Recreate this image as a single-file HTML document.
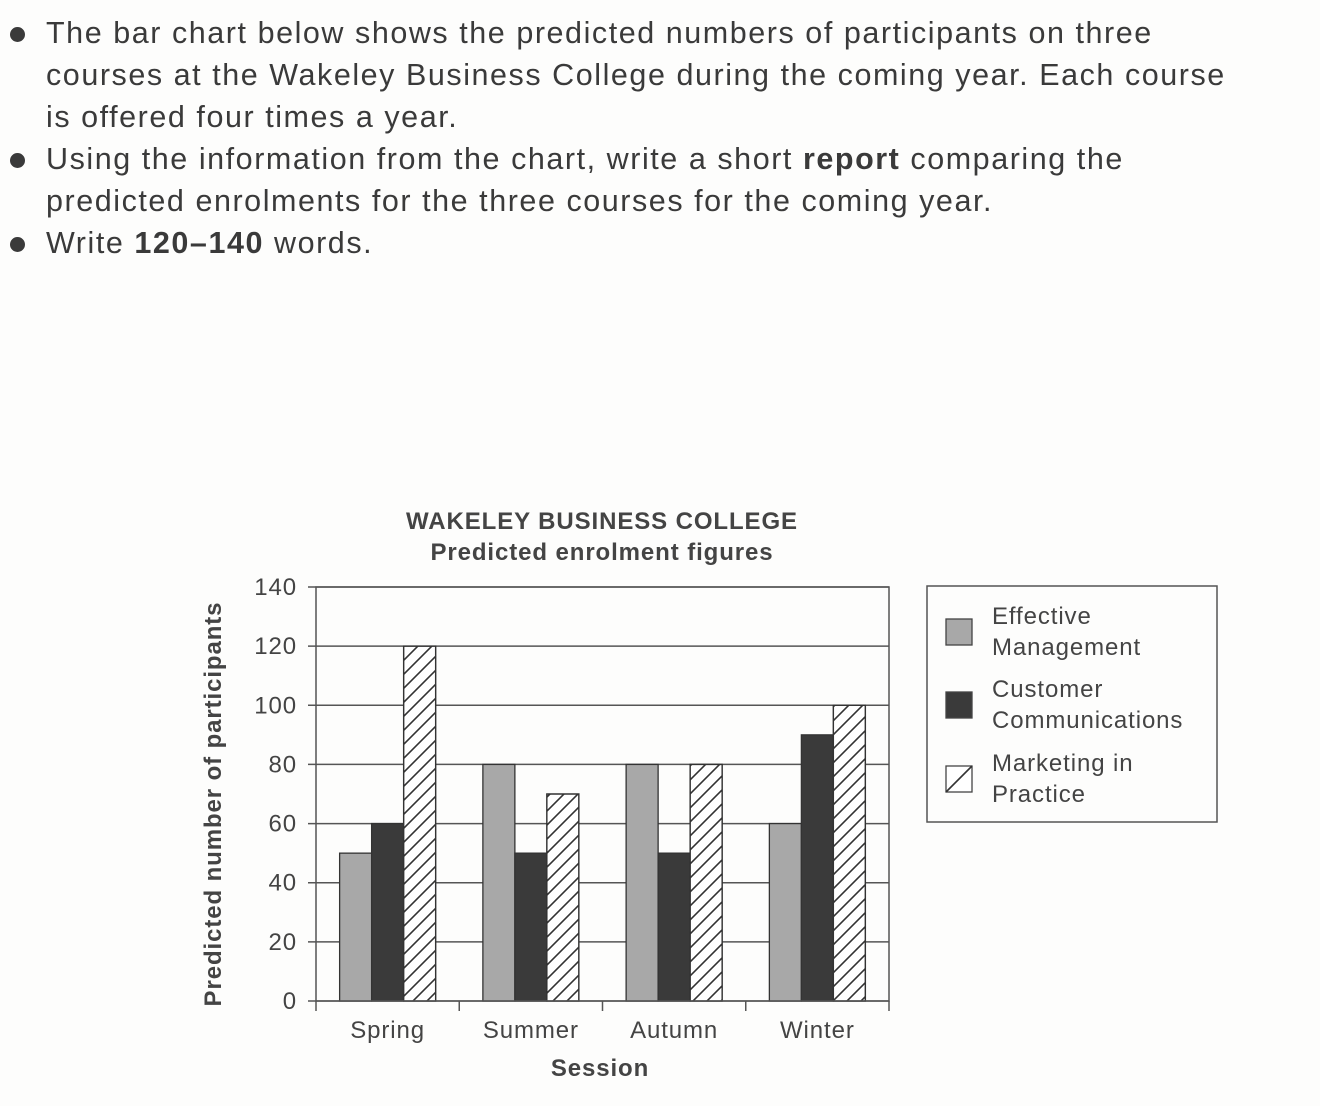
<!DOCTYPE html>
<html><head><meta charset="utf-8">
<style>
html,body{margin:0;padding:0;background:#fdfdfc;}
body{width:1320px;height:1106px;position:relative;overflow:hidden;font-family:"Liberation Sans",Arial,sans-serif;color:#3a3a3a;}
.inst{position:absolute;left:0;top:12px;font-size:30.5px;line-height:42px;letter-spacing:1.55px;white-space:nowrap;}
.inst div{position:relative;padding-left:46px;}
.inst div.b:before{content:"";position:absolute;left:10px;top:15px;width:15px;height:15px;border-radius:50%;background:#3a3a3a;}
svg{position:absolute;left:0;top:0;}
svg text{letter-spacing:0.9px;}
</style></head><body>
<div class="inst">
<div class="b">The bar chart below shows the predicted numbers of participants on three<br>courses at the Wakeley Business College during the coming year. Each course<br>is offered four times a year.</div>
<div class="b">Using the information from the chart, write a short <b>report</b> comparing the<br>predicted enrolments for the three courses for the coming year.</div>
<div class="b">Write <b>120–140</b> words.</div>
</div>
<svg id="chart" width="1320" height="1106">
<defs><pattern id="hatch" patternUnits="userSpaceOnUse" width="14" height="14">
<path d="M-2,16 L16,-2 M-2,2 L2,-2 M12,16 L16,12" stroke="#333" stroke-width="1.6"/></pattern></defs>
</svg>
<script>
const categories=["Spring","Summer","Autumn","Winter"];
const seriesNames=["Effective Management","Customer Communications","Marketing in Practice"];
const effective=[50,80,80,60];
const customer=[60,50,50,90];
const marketing=[120,70,80,100];
const yTicks=[0,20,40,60,80,100,120,140];
const svg=document.getElementById('chart');
const NS='http://www.w3.org/2000/svg';
const X0=316,X1=889,Y0=1001,Y1=587,YMAX=140;
const y=v=>Y0-(v/YMAX)*(Y0-Y1);
const bw=(X1-X0)/categories.length;
function mk(t,a,txt){const e=document.createElementNS(NS,t);for(const k in a)e.setAttribute(k,a[k]);if(txt!==undefined)e.textContent=txt;svg.appendChild(e);return e;}
yTicks.forEach(v=>{
 const g=mk('line',{x1:X0-8,x2:X1,y1:y(v),y2:y(v),stroke:'#555','stroke-width':1.5});
 
 
 const t=mk('text',{x:297,y:y(v)+8,'text-anchor':'end','font-size':24,fill:'#444'},v);
 
 
});
const fills=['#a8a8a8','#3a3a3a','#fff'];
const data=[effective,customer,marketing];
categories.forEach((c,i)=>{
 const cx=X0+bw*(i+0.5);
 data.forEach((s,j)=>{
  const x=cx-48+j*32;
  const r=mk('rect',{x:x,y:y(s[i]),width:32,height:Y0-y(s[i]),fill:fills[j],stroke:'#333','stroke-width':1.3});
  
  
  if(j==2){const h=mk('rect',{x:x,y:y(s[i]),width:32,height:Y0-y(s[i]),fill:'url(#hatch)',stroke:'#333','stroke-width':1.3});
   
   }
 });
 const t=mk('text',{x:cx,y:1038,'text-anchor':'middle','font-size':24,fill:'#444'},c);
 
 
});
for(let i=0;i<=categories.length;i++){const tk=mk('line',{x1:X0+bw*i,x2:X0+bw*i,y1:Y0,y2:Y0+10,stroke:'#555','stroke-width':1.5});
 
 }
const fr=mk('rect',{x:X0,y:Y1,width:X1-X0,height:Y0-Y1,fill:'none',stroke:'#555','stroke-width':1.5});


</script>
<svg width="1320" height="1106" style="pointer-events:none">
<text x="602" y="529" text-anchor="middle" font-size="24" font-weight="bold" fill="#444">WAKELEY BUSINESS COLLEGE</text>
<text x="602" y="560" text-anchor="middle" font-size="24" font-weight="bold" fill="#444">Predicted enrolment figures</text>
<text transform="translate(221,804) rotate(-90)" text-anchor="middle" font-size="24" font-weight="bold" fill="#444">Predicted number of participants</text>
<text x="600" y="1076" text-anchor="middle" font-size="24" font-weight="bold" fill="#444">Session</text>
<g font-size="24" fill="#444">
<rect x="927" y="586" width="290" height="236" fill="none" stroke="#555" stroke-width="1.5"/>
<rect x="946" y="619" width="26" height="26" fill="#a8a8a8" stroke="#444" stroke-width="1.3"/>
<text x="992" y="624">Effective</text>
<text x="992" y="655">Management</text>
<rect x="946" y="692" width="26" height="26" fill="#3a3a3a" stroke="#444" stroke-width="1.3"/>
<text x="992" y="697">Customer</text>
<text x="992" y="728">Communications</text>
<rect x="946" y="766" width="26" height="26" fill="#fff" stroke="#444" stroke-width="1.3"/>
<line x1="946" y1="792" x2="972" y2="766" stroke="#333" stroke-width="1.6"/>
<text x="992" y="771">Marketing in</text>
<text x="992" y="802">Practice</text>
</g>
</svg>
</body></html>
